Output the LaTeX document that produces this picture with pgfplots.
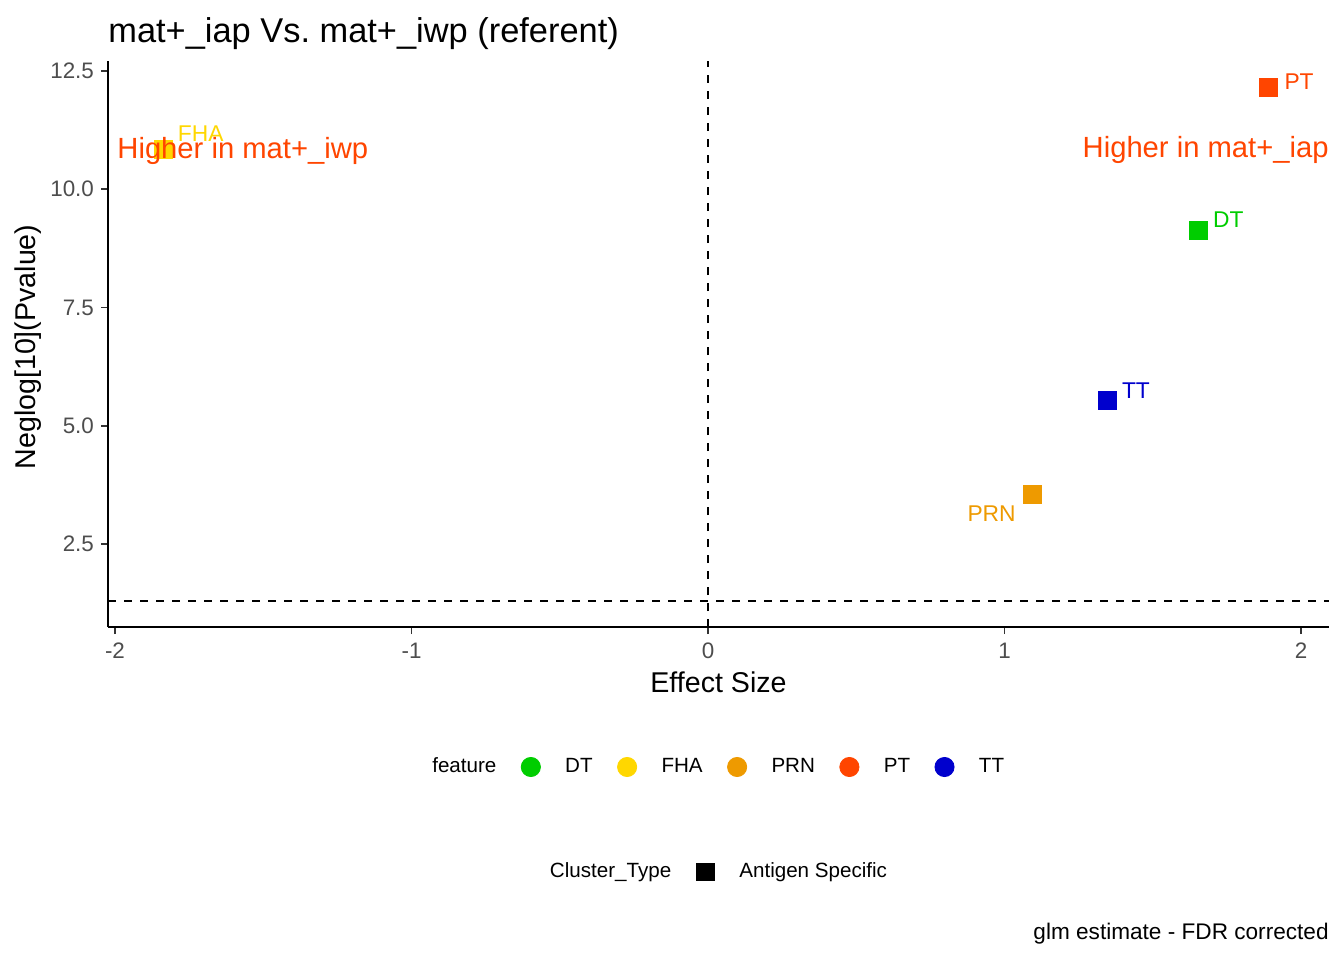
\documentclass[border=0pt]{standalone}
\usepackage{fontspec}
\setmainfont{Liberation Sans}
\usepackage{pgfplots}
\pgfplotsset{compat=1.18}
\frenchspacing
\definecolor{cDT}{HTML}{00CD00}
\definecolor{cFHA}{HTML}{FFD700}
\definecolor{cPRN}{HTML}{EE9A00}
\definecolor{cPT}{HTML}{FF4500}
\definecolor{cTT}{HTML}{0000CD}
\definecolor{labgray}{HTML}{4D4D4D}
\definecolor{tickgray}{HTML}{333333}
\newcommand{\fs}[1]{\fontsize{#1}{#1}\selectfont}
\begin{document}
\begin{tikzpicture}
\path[use as bounding box] (0,0) rectangle (672pt,480pt);
\begin{axis}[
  at={(54pt,166.5pt)}, anchor=south west,
  scale only axis, width=610.5pt, height=283pt,
  xmin=-2.0236, xmax=2.0944, ymin=0.745, ymax=12.71,
  axis lines=left,
  axis line style={-, line width=0.9pt, black},
  xtick={-2,-1,0,1,2}, xticklabels={-2,-1,0,1,2},
  ytick={2.5,5,7.5,10,12.5}, yticklabels={2.5,5.0,7.5,10.0,12.5},
  tick align=outside, major tick length=3.5pt,
  every tick/.style={line width=0.9pt, color=tickgray},
  ticklabel style={font=\fs{11.2}, text=labgray},
  xticklabel style={yshift=-1pt},
  yticklabel style={xshift=0pt},
  xlabel={Effect Size}, ylabel={Neglog[10](Pvalue)},
  every axis x label/.style={at={(axis description cs:0.5,-0.0972)}, anchor=center, font=\fs{14.3}, inner sep=0pt},
  every axis y label/.style={at={(axis description cs:-0.0655,0.4947)}, rotate=90, anchor=center, font=\fs{14.3}, inner sep=0pt},
  title={mat+\_iap Vs. mat+\_iwp (referent)},
  every axis title/.style={at={(axis description cs:0,1.0335)}, anchor=base west, inner sep=0pt, font=\fs{17.2}},
  legend columns=-1,
  legend style={at={(axis description cs:0.5,0)}, anchor=center, xshift=-6.25pt, yshift=-70pt,
    draw=none, fill=none, inner sep=0pt, outer sep=0pt, font=\fs{10.3},
    nodes={inner sep=0pt},
    /tikz/every odd column/.style={column sep=12.2pt},
    /tikz/every even column/.style={column sep=12.2pt}},
  clip=false,
]
% reference lines
\addplot[forget plot, black, line width=0.8pt, dash pattern=on 4pt off 4pt] coordinates {(0,0.745) (0,12.71)};
\addplot[forget plot, black, line width=0.8pt, dash pattern=on 4pt off 4pt] coordinates {(-2.0236,1.301) (2.0944,1.301)};
% points
\addplot[forget plot, only marks, mark=square*, mark size=4.5pt, color=cFHA] coordinates {(-1.836,10.851)};
\addplot[forget plot, only marks, mark=square*, mark size=4.5pt, color=cPRN] coordinates {(1.094,3.551)};
\addplot[forget plot, only marks, mark=square*, mark size=4.5pt, color=cTT] coordinates {(1.347,5.538)};
\addplot[forget plot, only marks, mark=square*, mark size=4.5pt, color=cDT] coordinates {(1.655,9.124)};
\addplot[forget plot, only marks, mark=square*, mark size=4.5pt, color=cPT] coordinates {(1.890,12.162)};
% anchor coordinates for labels
\coordinate (lFHA) at (axis cs:-1.789,11.005);
\coordinate (lPRN) at (axis cs:1.039,2.97);
\coordinate (lTT) at (axis cs:1.395,5.58);
\coordinate (lDT) at (axis cs:1.702,9.193);
\coordinate (lPT) at (axis cs:1.943,12.109);
\coordinate (aL) at (axis description cs:0.0074,0.8275);
\coordinate (aR) at (axis description cs:1.0,0.829);
% legend
\addlegendimage{empty legend}\addlegendentry{feature}
\addlegendimage{legend image code/.code={\fill[cDT] (0pt,0pt) circle (4.8pt);}}\addlegendentry{DT}
\addlegendimage{legend image code/.code={\fill[cFHA] (0pt,0pt) circle (4.8pt);}}\addlegendentry{FHA}
\addlegendimage{legend image code/.code={\fill[cPRN] (0pt,0pt) circle (4.8pt);}}\addlegendentry{PRN}
\addlegendimage{legend image code/.code={\fill[cPT] (0pt,0pt) circle (4.8pt);}}\addlegendentry{PT}
\addlegendimage{legend image code/.code={\fill[cTT] (0pt,0pt) circle (4.8pt);}}\addlegendentry{TT}
\end{axis}
% point labels and annotations (drawn above the marks)
\node[anchor=base west, inner sep=0pt, font=\fs{11.4}, text=cFHA] at (lFHA) {FHA};
\node[anchor=base east, inner sep=0pt, font=\fs{11.4}, text=cPRN] at (lPRN) {PRN};
\node[anchor=base west, inner sep=0pt, font=\fs{11.4}, text=cTT] at (lTT) {TT};
\node[anchor=base west, inner sep=0pt, font=\fs{11.4}, text=cDT] at (lDT) {DT};
\node[anchor=base west, inner sep=0pt, font=\fs{11.4}, text=cPT] at (lPT) {PT};
\node[anchor=base west, inner sep=0pt, font=\fs{14.6}, text=cPT] at (aL) {Higher in mat+\_iwp};
\node[anchor=base east, inner sep=0pt, font=\fs{14.6}, text=cPT] at (aR) {Higher in mat+\_iap};
\begin{axis}[
  at={(54pt,166.5pt)}, anchor=south west,
  scale only axis, width=610.5pt, height=283pt,
  hide axis, xmin=0, xmax=1, ymin=0, ymax=1,
  legend columns=-1,
  legend style={at={(axis description cs:0.5,0)}, anchor=center, xshift=-6.25pt, yshift=-122.5pt,
    draw=none, fill=none, inner sep=0pt, outer sep=0pt, font=\fs{10.3},
    nodes={inner sep=0pt},
    /tikz/every odd column/.style={column sep=12.5pt},
    /tikz/every even column/.style={column sep=12.5pt}},
]
\addlegendimage{empty legend}\addlegendentry{Cluster\_Type}
\addlegendimage{legend image code/.code={\fill[black] (-4.3pt,-4.3pt) rectangle (4.3pt,4.3pt);}}\addlegendentry{Antigen Specific}
\end{axis}
\node[anchor=base east, inner sep=0pt, font=\fs{11.3}] at (664.5pt,10.5pt) {glm estimate - FDR corrected};
\end{tikzpicture}
\end{document}
